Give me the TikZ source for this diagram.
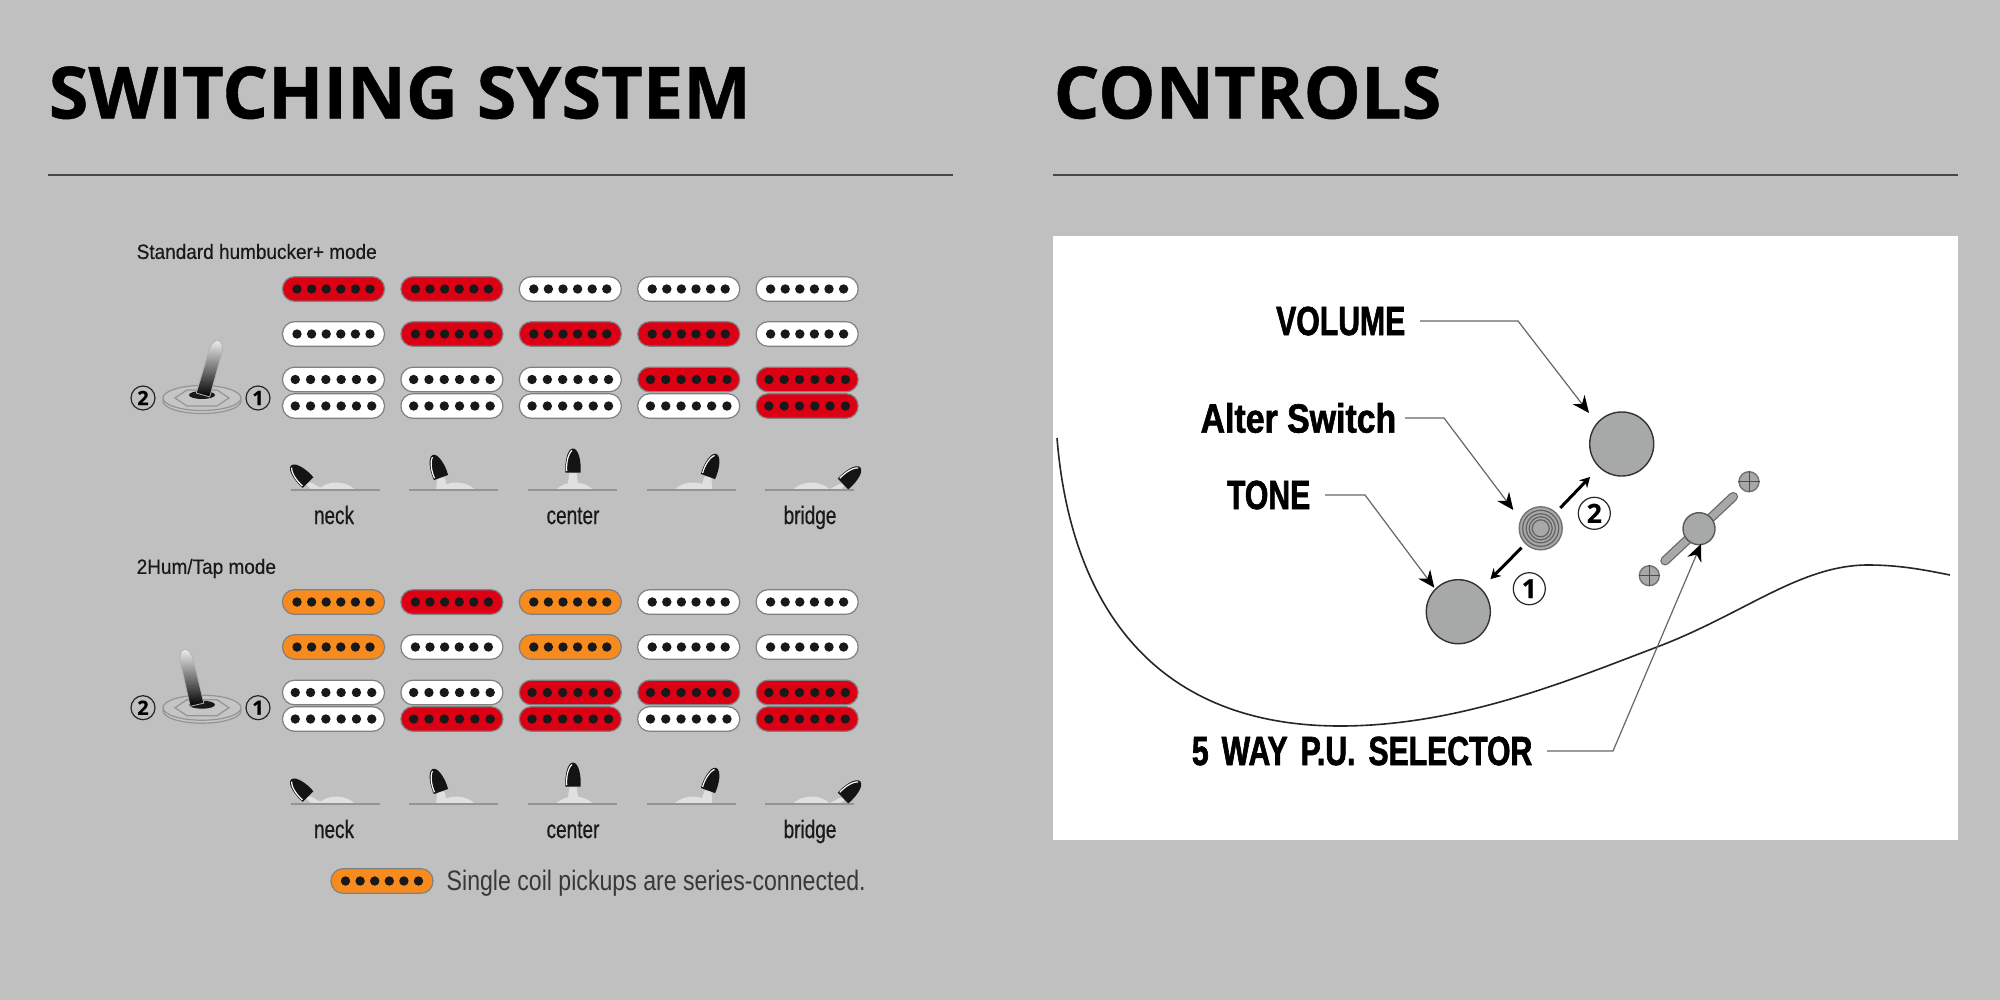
\documentclass[tikz,border=0pt]{standalone}
\usepackage{fontspec}
\usepackage{tikz}
\usetikzlibrary{arrows.meta}

\setmainfont[BoldFeatures={FakeBold=0.6}]{Open Sans}
\newfontfamily\ctrlfont[FakeStretch=0.74,WordSpace=1.55,BoldFeatures={FakeBold=1.5}]{Liberation Sans}
\newfontfamily\alterfont[FakeStretch=0.83,BoldFeatures={FakeBold=1.5}]{Liberation Sans}
\newfontfamily\modefont[FakeStretch=0.915,FakeBold=0.4]{Liberation Sans}
\newfontfamily\posfont[FakeStretch=0.75,FakeBold=0.5]{Liberation Sans}
\newfontfamily\notefont[FakeStretch=0.822]{Liberation Sans}

\definecolor{panelgray}{HTML}{C0C0C0}
\definecolor{pkred}{HTML}{DC0015}
\definecolor{pkorange}{HTML}{F78B1E}
\definecolor{pkwhite}{HTML}{FFFFFF}
\definecolor{knobgray}{HTML}{A7A9A8}

% one pickup: x, y, dot gap, colour
\newcommand{\pickupbar}[4]{
  \draw[pickup, fill=#4] ({#1-51},{#2-12.3}) rectangle ({#1+51},{#2+12.3});
  \foreach \dotk in {-2.5,-1.5,-0.5,0.5,1.5,2.5}
    \fill[pickupdot] ({#1+\dotk*#3},#2) circle (0.047cm);
}
% five pickups in a row: y, dot gap, colours
\newcommand{\pickuprow}[3]{
  \foreach \pkcol [count=\pkn from 0] in {#3}
    \pickupbar{333.5+118.4*\pkn}{#1}{#2}{\pkcol};
}
% toggle with its washer: name, x, y, lever angle, lever offset
\newcommand{\bigtoggle}[5]{
  \node[badge] (#1two) at (#2-59,#3) {2};
  \node[badge] (#1one) at (#2+56,#3) {1};
  \draw[washer] (#2,#3+3) ellipse [x radius=0.39cm, y radius=0.125cm];
  \draw[washer] (#2,#3) ellipse [x radius=0.39cm, y radius=0.125cm];
  \draw[washer] (#2-27,#3) -- (#2-15,#3-8) -- (#2+15,#3-8) -- (#2+27,#3) -- (#2+15,#3+8) -- (#2-15,#3+8) -- cycle;
  \fill[black!90] (#2,#3-3) ellipse [x radius=0.13cm, y radius=0.04cm];
  \begin{scope}[shift={(#2+#5,#3-3)}, rotate=#4]
    \shade[bottom color=black, top color=white, draw=black!30, line width=0.008cm]
      (-7,0) -- (-6.5,-46) .. controls (-6,-60) and (6,-60) .. (6.5,-46) -- (7,0) -- cycle;
  \end{scope}
}
% the five small lever positions, y is fixed by the scope round it
\newcommand{\leverrow}{
  \foreach \linex/\domex/\footx/\basex/\basey/\leverang in
      {335/336.5/318/308/482.5/45, 453.5/456.5/442/441/477.5/20, 572.5/574.5/573/573/472.5/0, 691/693/706/708/476.5/-20, 809/811.5/834/843/484/-46} {
    \fill[leverlight] (\domex-19,490) .. controls (\domex-9,480) and (\domex+9,480) .. (\domex+19,490) -- cycle;
    \fill[leverlight] (\footx-6,490) -- (\basex-3.5,\basey) -- (\basex+3.5,\basey) -- (\footx+6,490) -- cycle;
    \draw[baseline] (\linex-44.5,490) -- (\linex+44.5,490);
    \begin{scope}[shift={(\basex,\basey)}, rotate=\leverang]
      \fill[black!92] (-7.5,0) .. controls (-8.5,-9) and (-6,-24) .. (0,-24) .. controls (6,-24) and (8.5,-9) .. (7.5,0) -- cycle;
      \draw[white, line width=0.012cm] (-6.3,-1.5) .. controls (-7,-9) and (-5,-19) .. (-1,-22);
    \end{scope}
  }
}

\begin{document}
\begin{tikzpicture}[
    x=0.01cm, y=-0.01cm,
    headtext/.style={font=\fontsize{20.5}{24}\selectfont\bfseries, anchor=base west, inner sep=0},
    rulerline/.style={line width=0.016cm, black!72},
    pickup/.style={draw=black!50, line width=0.012cm, rounded corners=0.12cm},
    pickupdot/.style={fill=black!90},
    badge/.style={circle, draw=black!85, fill=none, line width=0.012cm, minimum size=0.24cm, inner sep=0, font=\fontsize{5.6}{5}\selectfont\bfseries},
    bigbadge/.style={circle, draw=black!85, fill=white, line width=0.012cm, minimum size=0.32cm, inner sep=0, font=\fontsize{7.5}{7}\selectfont\bfseries},
    washer/.style={draw=black!42, fill=panelgray!92!white, line width=0.012cm},
    leverlight/.style={fill=black!12},
    baseline/.style={draw=black!42, line width=0.02cm},
    modetext/.style={font=\modefont\fontsize{5.9}{6}\selectfont, anchor=west, inner sep=0, text=black!90},
    postext/.style={font=\posfont\fontsize{7.2}{7}\selectfont, anchor=base, inner sep=0, text=black!90},
    ctrlabel/.style={font=\ctrlfont\bfseries\fontsize{11.6}{12}\selectfont, anchor=east, inner ysep=0, inner xsep=0.14cm},
    knob/.style={circle, draw=black!80, fill=knobgray, line width=0.014cm, inner sep=0, minimum size=0.64cm},
    leader/.style={draw=black!60, line width=0.012cm, -{Stealth[length=0.17cm, width=0.15cm, black]}},
    swing/.style={draw=black, line width=0.03cm, -{Stealth[length=0.1cm, width=0.11cm]}}
]

\useasboundingbox (0,0) rectangle (2000,1000);
\fill[panelgray] (0,0) rectangle (2000,1000);

% Headings
\node[headtext] (switchhead) at (48,118.5) {SWITCHING SYSTEM};
\node[headtext] (controlhead) at (1053,118.5) {CONTROLS};
\draw[rulerline] (48,175) -- (953,175);
\draw[rulerline] (1053,175) -- (1958,175);

% Standard humbucker+ mode
\node[modetext] (stdmode) at (136,251.5) {Standard humbucker+ mode};
\pickuprow{289}{14.6}{pkred,pkred,pkwhite,pkwhite,pkwhite}
\pickuprow{334}{14.6}{pkwhite,pkred,pkred,pkred,pkwhite}
\pickuprow{379.5}{15.3}{pkwhite,pkwhite,pkwhite,pkred,pkred}
\pickuprow{406}{15.3}{pkwhite,pkwhite,pkwhite,pkwhite,pkred}
\bigtoggle{std}{202}{398}{-16}{1}
\leverrow
\node[postext] (stdneck) at (334,524) {neck};
\node[postext] (stdcenter) at (573,524) {center};
\node[postext] (stdbridge) at (810,524) {bridge};

% 2Hum/Tap mode
\node[modetext] (tapmode) at (136,568.5) {2Hum/Tap mode};
\pickuprow{602}{14.6}{pkorange,pkred,pkorange,pkwhite,pkwhite}
\pickuprow{647}{14.6}{pkorange,pkwhite,pkorange,pkwhite,pkwhite}
\pickuprow{692.5}{15.3}{pkwhite,pkwhite,pkred,pkred,pkred}
\pickuprow{719}{15.3}{pkwhite,pkred,pkred,pkwhite,pkred}
\bigtoggle{tap}{202}{707.7}{13}{-5}
\begin{scope}[shift={(0,314)}]
  \leverrow
\end{scope}
\node[postext] (tapneck) at (334,838) {neck};
\node[postext] (tapcenter) at (573,838) {center};
\node[postext] (tapbridge) at (810,838) {bridge};

% Legend
\pickupbar{382}{881}{14.6}{pkorange}
\node[font=\notefont\fontsize{8}{8}\selectfont, anchor=base west, inner sep=0, text=black!78] (legendtext) at (446,890) {Single coil pickups are series-connected.};

% Controls panel
\fill[white] (1053,236) rectangle (1958,840);
\draw[black!85, line width=0.016cm] (1057,438) .. controls (1070,600) and (1150,726) .. (1340,726)
  .. controls (1460,726) and (1570,680) .. (1657,647)
  .. controls (1744,614) and (1800,565) .. (1868,565)
  .. controls (1900,565) and (1925,570) .. (1950,575);

% Knobs
\node[knob] (volumeknob) at (1621.7,444) {};
\node[knob] (toneknob) at (1458.3,611.7) {};
\node[knob, minimum size=0.43cm, draw=black!55] (alterknob) at (1540.7,528.3) {};
\foreach \ringr in {0.18,0.145,0.115,0.085}
  \draw[black!62, line width=0.012cm] (alterknob) circle (\ringr cm);

% Selector
\draw[draw=black!60, line width=0.095cm, line cap=round] (1665,560.7) -- (1733.3,496.7);
\draw[knobgray, line width=0.07cm, line cap=round] (1665,560.7) -- (1733.3,496.7);
\node[knob, minimum size=0.32cm, draw=black!65] (selectorknob) at (1699,528.7) {};
\node[knob, minimum size=0.2cm, draw=black!55] (screwlow) at (1649.3,575.7) {};
\node[knob, minimum size=0.2cm, draw=black!55] (screwhigh) at (1749,481.7) {};
\draw[black!70, line width=0.01cm] (screwlow.west) -- (screwlow.east) (screwlow.north) -- (screwlow.south);
\draw[black!70, line width=0.01cm] (screwhigh.west) -- (screwhigh.east) (screwhigh.north) -- (screwhigh.south);

% Alter switch directions
\draw[swing, shorten <=0.06cm, shorten >=0.13cm] (alterknob) -- (volumeknob);
\draw[swing, shorten <=0.05cm, shorten >=0.13cm] (alterknob) -- (toneknob);
\node[bigbadge] (swingtwo) at (1594.3,513.3) {2};
\node[bigbadge] (swingone) at (1529.3,588.7) {1};

% Labels and leaders
\node[ctrlabel] (volumelabel) at (1420,321) {VOLUME};
\node[ctrlabel, font=\alterfont\bfseries\fontsize{11.6}{12}\selectfont, inner xsep=0.08cm] (alterlabel) at (1405,418) {Alter Switch};
\node[ctrlabel] (tonelabel) at (1325,495) {TONE};
\node[ctrlabel] (selectorlabel) at (1547,751) {5 WAY P.U. SELECTOR};
\coordinate (volumetip) at (1589,413);
\coordinate (altertip) at (1513.3,510);
\coordinate (tonetip) at (1434.3,587.7);
\coordinate (selectortip) at (1701,544);
\draw[leader] (volumelabel.east) -- (1518,321) -- (volumetip);
\draw[leader] (alterlabel.east) -- (1444,418) -- (altertip);
\draw[leader] (tonelabel.east) -- (1365,495) -- (tonetip);
\draw[leader] (selectorlabel.east) -- (1613,751) -- (selectortip);

\end{tikzpicture}
\end{document}
